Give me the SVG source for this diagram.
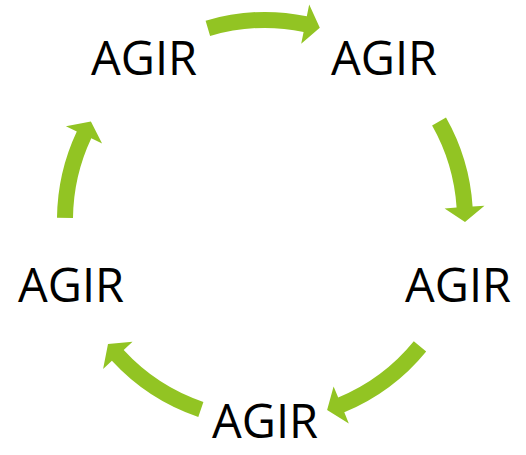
<svg xmlns="http://www.w3.org/2000/svg" width="526" height="455" viewBox="0 0 526 455">
<style>
.arrow{fill:#92c423;stroke:none}
.lbl{font-family:"Open Sans",sans-serif;font-size:47px;fill:#000;text-anchor:middle}
</style>
<rect width="526" height="455" fill="#fff"/>
<g id="connectors">
<path class="arrow" d="M205.6,20.7 A208,208 0 0 1 306.8,16.2 L309.2,4.5 L319.8,27.7 L301.2,43.7 L303.6,31.9 A192,192 0 0 0 210.1,36.0 Z"/>
<path class="arrow" d="M446.0,117.6 A208,208 0 0 1 472.6,206.6 L484.5,205.8 L465.0,222.1 L444.6,208.4 L456.6,207.6 A192,192 0 0 0 432.1,125.5 Z"/>
<path class="arrow" d="M426.2,351.5 A208,208 0 0 1 344.3,412.3 L348.8,423.4 L327.1,410.1 L333.6,386.4 L338.2,397.5 A192,192 0 0 0 413.8,341.3 Z"/>
<path class="arrow" d="M198.3,417.0 A208,208 0 0 1 111.9,360.8 L103.1,368.9 L108.0,344.0 L132.5,341.8 L123.7,350.0 A192,192 0 0 0 203.4,401.9 Z"/>
<path class="arrow" d="M57.0,217.8 A208,208 0 0 1 76.8,131.4 L65.9,126.3 L90.9,121.5 L102.1,143.4 L91.3,138.2 A192,192 0 0 0 73.0,218.0 Z"/>
</g>
<g id="node1"><text class="lbl" x="144" y="75">AGIR</text></g>
<g id="node2"><text class="lbl" x="384" y="75">AGIR</text></g>
<g id="node3"><text class="lbl" x="458" y="302">AGIR</text></g>
<g id="node4"><text class="lbl" x="265" y="438">AGIR</text></g>
<g id="node5"><text class="lbl" x="71" y="302">AGIR</text></g>
</svg>
